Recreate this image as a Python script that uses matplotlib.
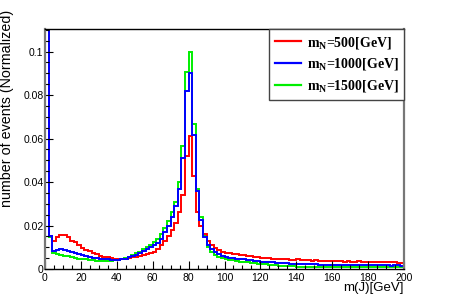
import numpy as np
import matplotlib
matplotlib.use("Agg")
import matplotlib.pyplot as plt
from matplotlib.ticker import MultipleLocator, FuncFormatter

plt.rcParams['font.family'] = ['Liberation Sans', 'DejaVu Sans']
plt.rcParams['mathtext.fontset'] = 'custom'
plt.rcParams['mathtext.rm'] = 'Liberation Serif:bold'
plt.rcParams['mathtext.it'] = 'Liberation Serif:bold'

# bin edges: 0..200 GeV, 2 GeV wide
edges = np.arange(0, 202, 2)

# m_N = 500 GeV
red = [
    0.20, 0.0150, 0.0130, 0.0145, 0.0158, 0.0155, 0.0148, 0.0130, 0.0122, 0.0110,
    0.0098, 0.0088, 0.0082, 0.0072, 0.0068, 0.0060, 0.0055, 0.0055, 0.0050, 0.0048,
    0.0045, 0.0046, 0.0048, 0.0050, 0.0053, 0.0056, 0.0060, 0.0065, 0.0070, 0.0075,
    0.0080, 0.0090, 0.0110, 0.0130, 0.0150, 0.0180, 0.0210, 0.0260, 0.0340, 0.0520,
    0.0610, 0.0430, 0.0260, 0.0200, 0.0160, 0.0130, 0.0110, 0.0095, 0.0088, 0.0080,
    0.0075, 0.0072, 0.0070, 0.0068, 0.0066, 0.0063, 0.0060, 0.0058, 0.0056, 0.0054,
    0.0052, 0.0050, 0.0049, 0.0048, 0.0047, 0.0046, 0.0045, 0.0044, 0.0043, 0.0042,
    0.0048, 0.0042, 0.0041, 0.0040, 0.0039, 0.0040, 0.0038, 0.0037, 0.0038, 0.0036,
    0.0036, 0.0035, 0.0036, 0.0034, 0.0035, 0.0034, 0.0033, 0.0035, 0.0033, 0.0032,
    0.0034, 0.0032, 0.0033, 0.0031, 0.0032, 0.0033, 0.0031, 0.0030, 0.0029, 0.0028,
]

# m_N = 1000 GeV
blue = [
    0.20, 0.0152, 0.0082, 0.0088, 0.0090, 0.0088, 0.0085, 0.0080, 0.0075, 0.0070,
    0.0065, 0.0060, 0.0055, 0.0052, 0.0050, 0.0048, 0.0046, 0.0045, 0.0043, 0.0042,
    0.0042, 0.0044, 0.0048, 0.0054, 0.0060, 0.0066, 0.0074, 0.0083, 0.0092, 0.0101,
    0.0110, 0.0120, 0.0140, 0.0170, 0.0200, 0.0240, 0.0290, 0.0370, 0.0510, 0.0820,
    0.0900, 0.0617, 0.0360, 0.0225, 0.0145, 0.0110, 0.0090, 0.0078, 0.0068, 0.0060,
    0.0055, 0.0052, 0.0050, 0.0048, 0.0046, 0.0044, 0.0042, 0.0040, 0.0038, 0.0036,
    0.0034, 0.0032, 0.0031, 0.0030, 0.0029, 0.0028, 0.0027, 0.0026, 0.0025, 0.0024,
    0.0023, 0.0023, 0.0022, 0.0022, 0.0021, 0.0021, 0.0020, 0.0020, 0.0020, 0.0019,
    0.0019, 0.0019, 0.0018, 0.0019, 0.0018, 0.0018, 0.0018, 0.0017, 0.0018, 0.0017,
    0.0018, 0.0017, 0.0017, 0.0018, 0.0017, 0.0017, 0.0016, 0.0017, 0.0017, 0.0016,
]

# m_N = 1500 GeV
green = [
    0.20, 0.0148, 0.0075, 0.0070, 0.0066, 0.0062, 0.0058, 0.0054, 0.0050, 0.0048,
    0.0046, 0.0044, 0.0042, 0.0040, 0.0039, 0.0038, 0.0038, 0.0038, 0.0039, 0.0040,
    0.0042, 0.0045, 0.0050, 0.0056, 0.0064, 0.0072, 0.0080, 0.0090, 0.0100, 0.0112,
    0.0125, 0.0140, 0.0160, 0.0190, 0.0220, 0.0260, 0.0310, 0.0400, 0.0566, 0.0905,
    0.1000, 0.0667, 0.0370, 0.0240, 0.0150, 0.0100, 0.0080, 0.0065, 0.0055, 0.0050,
    0.0046, 0.0043, 0.0040, 0.0037, 0.0034, 0.0032, 0.0030, 0.0028, 0.0026, 0.0024,
    0.0022, 0.0021, 0.0020, 0.0018, 0.0017, 0.0016, 0.0015, 0.0014, 0.0013, 0.0012,
    0.0011, 0.0011, 0.0011, 0.0010, 0.0010, 0.0010, 0.0010, 0.0009, 0.0010, 0.0009,
    0.0009, 0.0009, 0.0009, 0.0009, 0.0008, 0.0009, 0.0009, 0.0008, 0.0008, 0.0009,
    0.0008, 0.0008, 0.0009, 0.0008, 0.0008, 0.0008, 0.0008, 0.0008, 0.0008, 0.0008,
]

labels = [r"m$_{\mathrm{N}}$=500[GeV]", r"m$_{\mathrm{N}}$=1000[GeV]", r"m$_{\mathrm{N}}$=1500[GeV]"]
colors = ["#ff0000", "#0000ff", "#00ee00"]

fig = plt.figure(figsize=(4.49, 2.99), dpi=100)
ax = fig.add_axes([45 / 449, 30 / 299, 359 / 449, 240 / 299])

hg = ax.stairs(green, edges, baseline=None, color=colors[2], lw=1.4, label=labels[2])
hr = ax.stairs(red, edges, baseline=None, color=colors[0], lw=1.4, label=labels[0])
hb = ax.stairs(blue, edges, baseline=None, color=colors[1], lw=1.4, label=labels[1])

ax.set_xlim(0, 200)
ax.set_ylim(0, 0.1104)

ax.xaxis.set_major_locator(MultipleLocator(20))
ax.xaxis.set_minor_locator(MultipleLocator(5))
ax.yaxis.set_major_locator(MultipleLocator(0.02))
ax.yaxis.set_minor_locator(MultipleLocator(0.005))
ax.yaxis.set_major_formatter(FuncFormatter(lambda v, p: "%g" % round(v, 4)))

ax.tick_params(which="both", direction="in", top=False, right=False, labelsize=7.5)
ax.tick_params(which="major", length=6, width=0.8)
ax.tick_params(which="minor", length=3, width=0.8)
ax.tick_params(axis="y", pad=1)
ax.tick_params(axis="x", pad=3)

for s in ["top", "bottom"]:
    ax.spines[s].set_color("black")
    ax.spines[s].set_linewidth(1.0)
for s in ["left", "right"]:
    ax.spines[s].set_color("#777777")
    ax.spines[s].set_linewidth(1.6)

leg = ax.legend(handles=[hr, hb, hg], loc="upper right", bbox_to_anchor=(1.0, 1.0),
                borderaxespad=0, fancybox=False, framealpha=1, edgecolor="#444444",
                prop={"family": "Liberation Serif", "weight": "bold", "size": 10},
                handlelength=1.9, handletextpad=0.4, labelspacing=0.42,
                borderpad=0.4)
leg.get_frame().set_linewidth(1.0)
for line in leg.get_lines():
    line.set_linewidth(1.6)

fig.text(7 / 449, 1 - 10 / 299, "number of events (Normalized)", rotation=90,
         ha="center", va="top", fontsize=10.3)
fig.text(404 / 449, 1 - 288 / 299, "m(J)[GeV]", ha="right", va="center", fontsize=9.5)

fig.savefig("out.png", dpi=100)
